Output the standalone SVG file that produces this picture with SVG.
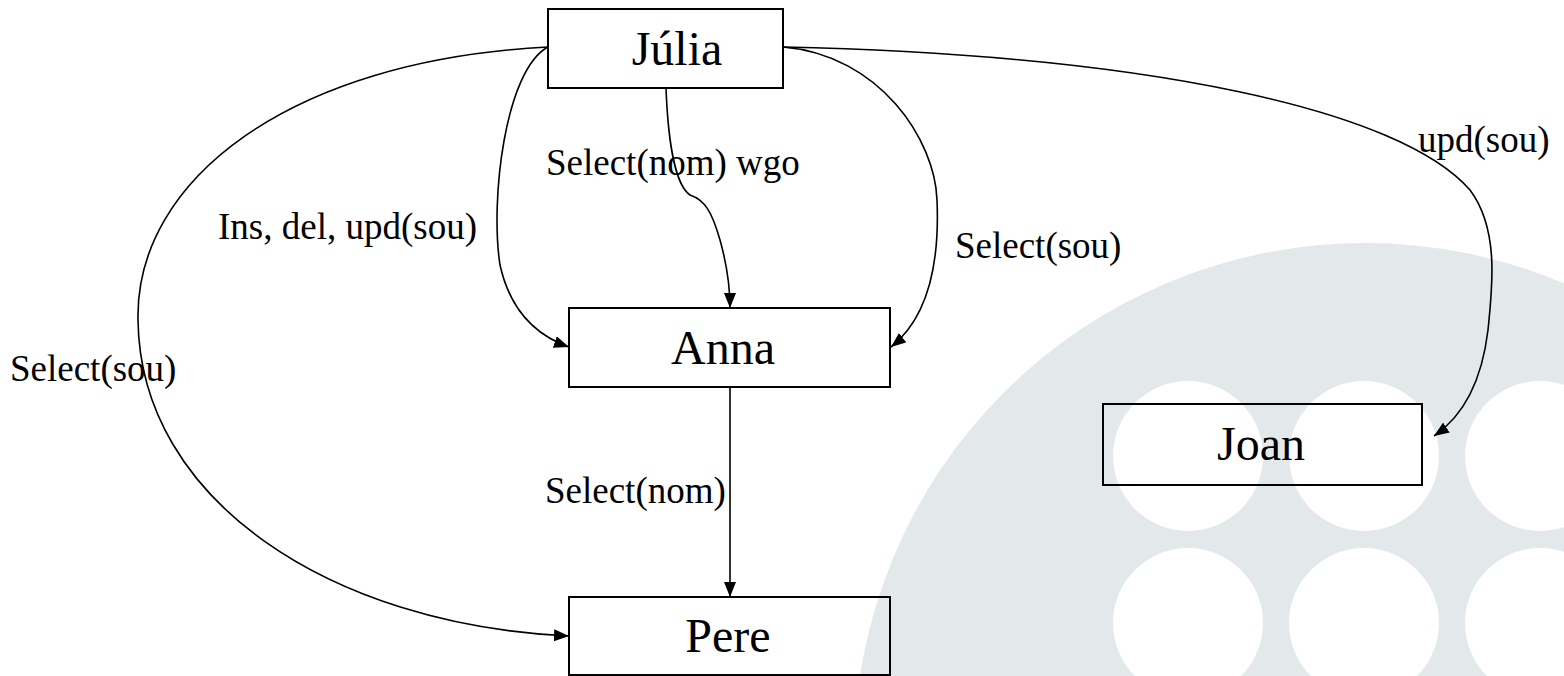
<svg xmlns="http://www.w3.org/2000/svg" width="1564" height="676" viewBox="0 0 1564 676">
<style>
.box{fill:none;stroke:#000;stroke-width:2}
.node{font-family:"Liberation Serif","Times New Roman",serif;font-size:48px;fill:#000;text-anchor:middle}
.lbl{font-family:"Liberation Serif","Times New Roman",serif;font-size:37px;fill:#000}
.edge{fill:none;stroke:#000;stroke-width:1.6;marker-end:url(#arr)}
</style>
<defs>
<marker id="arr" markerUnits="userSpaceOnUse" markerWidth="16" markerHeight="12" refX="15" refY="6" orient="auto">
<path d="M0,0 L15,6 L0,12 z" fill="#000"/>
</marker>
</defs>
<rect width="1564" height="676" fill="#fff"/>
<g id="watermark">
<circle cx="1365" cy="754" r="511" fill="#E3E9EB"/>
<g fill="#fff">
<circle cx="1188" cy="456" r="75"/>
<circle cx="1364" cy="456" r="75"/>
<circle cx="1540" cy="456" r="75"/>
<circle cx="1188" cy="623" r="75"/>
<circle cx="1364" cy="623" r="75"/>
<circle cx="1540" cy="623" r="75"/>
</g>
</g>
<g id="connectors">
<path class="edge" d="M666,88 C668,140 675,185 690,195 C705,200 712,212 720,240 C727,265 730,285 730,308"/>
<path class="edge" d="M548,47 C505,70 490,200 500,265 C510,310 535,335 569,347"/>
<path class="edge" d="M783,47 C880,55 935,140 937,200 C940,270 925,320 891,347"/>
<path class="edge" d="M548,47 C290,60 135,180 138,320 C140,500 330,625 569,636"/>
<path class="edge" d="M783,47 C1150,55 1400,110 1470,190 C1500,230 1492,290 1488,330 C1482,380 1465,415 1434,436"/>
<path class="edge" d="M730,388 L730,597"/>
<text class="lbl" x="546" y="175">Select(nom) wgo</text>
<text class="lbl" x="218" y="239">Ins, del, upd(sou)</text>
<text class="lbl" x="955" y="258">Select(sou)</text>
<text class="lbl" x="1418" y="152">upd(sou)</text>
<text class="lbl" x="10" y="381">Select(sou)</text>
<text class="lbl" x="545" y="503">Select(nom)</text>
</g>
<g id="julia">
<rect class="box" x="548" y="9" width="235" height="79"/>
<text class="node" x="677" y="65">Júlia</text>
</g>
<g id="anna">
<rect class="box" x="569" y="308" width="321" height="79"/>
<text class="node" x="723" y="364">Anna</text>
</g>
<g id="pere">
<rect class="box" x="569" y="597" width="321" height="78"/>
<text class="node" x="728" y="652">Pere</text>
</g>
<g id="joan">
<rect class="box" x="1103" y="404" width="319" height="81"/>
<text class="node" x="1261" y="460">Joan</text>
</g>
</svg>
